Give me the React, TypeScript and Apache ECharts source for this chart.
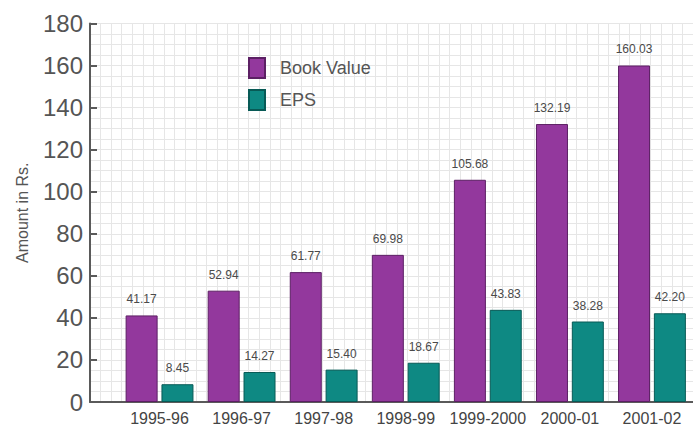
import React, { useEffect, useRef } from "react";
import * as echarts from "echarts";

// Financial years on the category axis
const years = ["1995-96", "1996-97", "1997-98", "1998-99", "1999-2000", "2000-01", "2001-02"];

// Book value and earnings per share, in rupees
const bookValue = [41.17, 52.94, 61.77, 69.98, 105.68, 132.19, 160.03];
const eps = [8.45, 14.27, 15.4, 18.67, 43.83, 38.28, 42.2];

// Value axis ticks
const yMin = 0;
const yMax = 180;
const yStep = 20;

const FONT = "'Liberation Sans', Arial, Helvetica, sans-serif";
const PURPLE = "#93389d";
const TEAL = "#0e8983";
const PAPER = "#e6e6e6";
const AXIS = "#5a5a5a";

export default function App() {
  const ref = useRef<HTMLDivElement>(null);

  useEffect(() => {
    if (!ref.current) return;
    const chart = echarts.init(ref.current, null, { renderer: "svg" });

    const valueLabel = {
      show: true,
      position: "top" as const,
      distance: 10,
      fontSize: 12,
      color: "#4a4a4a",
      fontFamily: FONT,
      formatter: (p: any) => Number(p.value).toFixed(2),
    };

    chart.setOption({
      animation: false,
      backgroundColor: "#ffffff",
      textStyle: { fontFamily: FONT },
      legend: {
        orient: "vertical",
        left: 248,
        top: 57,
        padding: 0,
        itemWidth: 16,
        itemHeight: 20,
        itemGap: 10,
        icon: "rect",
        textStyle: { fontSize: 18, color: "#555", padding: [0, 0, 0, 10], fontFamily: FONT },
        data: ["Book Value", "EPS"],
      },
      grid: [
        // graph-paper background and the axes
        { left: 90, top: 23.5, bottom: 29, right: 0 },
        // bars
        { left: 118.5, top: 23.5, bottom: 29, width: 580 },
      ],
      xAxis: [
        {
          type: "value",
          gridIndex: 0,
          min: 0,
          max: 57,
          interval: 1,
          axisLabel: { show: false },
          axisTick: { show: false },
          axisLine: { show: true, lineStyle: { color: AXIS, width: 2 } },
          splitLine: { show: true, lineStyle: { color: PAPER, width: 1 } },
        },
        {
          type: "category",
          gridIndex: 1,
          data: years,
          axisLine: { show: false },
          axisTick: { show: false },
          axisLabel: { fontSize: 16, color: "#444", margin: 8, fontFamily: FONT, interval: 0 },
        },
      ],
      yAxis: [
        {
          type: "value",
          gridIndex: 0,
          min: yMin,
          max: yMax,
          interval: yStep,
          name: "Amount in Rs.",
          nameLocation: "middle",
          nameRotate: 90,
          nameGap: 60,
          nameTextStyle: { fontSize: 16, color: "#555", fontFamily: FONT },
          axisLine: { show: true, lineStyle: { color: AXIS, width: 2 } },
          axisTick: { show: true, inside: true, length: 7, lineStyle: { color: AXIS, width: 2 } },
          axisLabel: { fontSize: 24, color: "#555", margin: 7, fontFamily: FONT },
          splitLine: { show: true, lineStyle: { color: PAPER, width: 1 } },
          minorTick: { show: false, splitNumber: 4 },
          minorSplitLine: { show: true, lineStyle: { color: PAPER, width: 1 } },
        },
        {
          type: "value",
          gridIndex: 1,
          min: yMin,
          max: yMax,
          interval: yStep,
          show: false,
          splitLine: { show: false },
        },
      ],
      series: [
        {
          name: "Book Value",
          type: "bar",
          xAxisIndex: 1,
          yAxisIndex: 1,
          data: bookValue,
          barWidth: 32,
          barGap: "12%",
          itemStyle: { color: PURPLE, borderColor: "#5c2064", borderWidth: 1 },
          label: valueLabel,
        },
        {
          name: "EPS",
          type: "bar",
          xAxisIndex: 1,
          yAxisIndex: 1,
          data: eps,
          barWidth: 32,
          itemStyle: { color: TEAL, borderColor: "#085a56", borderWidth: 1 },
          label: valueLabel,
        },
      ],
    });

    return () => chart.dispose();
  }, []);

  return (
    <div
      ref={ref}
      style={{ position: "absolute", left: 0, top: 0, width: 693, height: 431 }}
    />
  );
}
